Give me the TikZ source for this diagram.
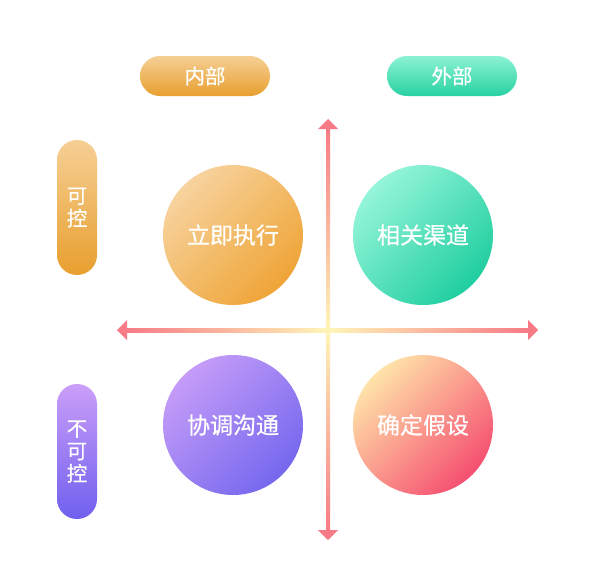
\documentclass[tikz,border=0pt]{standalone}
\usepackage{fontspec}
\newfontfamily\cjk[FakeBold=0.4]{Noto Sans CJK SC}
\definecolor{orA}{HTML}{F7D39E}\definecolor{orB}{HTML}{EFA436}
\definecolor{grA}{HTML}{95F5DA}\definecolor{grB}{HTML}{20CE9F}
\definecolor{puA}{HTML}{C59CF8}\definecolor{puB}{HTML}{7568EE}
\definecolor{reA}{HTML}{FFE3A9}\definecolor{reB}{HTML}{F54F70}
\definecolor{pkA}{HTML}{F77B86}\definecolor{yeA}{HTML}{FFF5B8}
\definecolor{porA}{HTML}{F6CF95}\definecolor{porB}{HTML}{E89F2E}
\definecolor{pgrA}{HTML}{8BF2D2}\definecolor{pgrB}{HTML}{28D2A2}
\definecolor{ppuA}{HTML}{CB9EF9}\definecolor{ppuB}{HTML}{6F60EE}
\tikzset{
  pill/.style={rectangle,rounded corners=20pt,inner sep=0pt,text=white,
    font=\cjk\fontsize{20.5}{22.5}\selectfont,align=center},
  hpill/.style={pill,minimum width=130pt,minimum height=40pt},
  vpill/.style={pill,minimum width=40pt,minimum height=135pt},
  disc/.style={circle,minimum size=140pt,inner sep=0pt,text=white,
    font=\cjk\fontsize{23}{25}\selectfont},
  tipfill/.style={fill=pkA,draw=none}
}
\begin{document}
\begin{tikzpicture}[x=1pt,y=-1pt]
\useasboundingbox[fill=white] (0,0) rectangle (610,587);
% axes
\coordinate (hl) at (117,330);
\coordinate (hr) at (538,330);
\coordinate (vt) at (328,119);
\coordinate (vb) at (328,540);
\shade[left color=pkA,right color=yeA] (127,328) rectangle (328,332);
\shade[left color=yeA,right color=pkA] (328,328) rectangle (528,332);
\fill[tipfill] (hl) -- ++(10,-10) -- ++(0,20) -- cycle;
\fill[tipfill] (hr) -- ++(-10,-10) -- ++(0,20) -- cycle;
\shade[top color=pkA,bottom color=yeA] (326,129) rectangle (330,330);
\shade[top color=yeA,bottom color=pkA] (326,330) rectangle (330,530);
\fill[tipfill] (vt) -- ++(-10,10) -- ++(20,0) -- cycle;
\fill[tipfill] (vb) -- ++(-10,-10) -- ++(20,0) -- cycle;
% pills
\node[hpill,top color=porA,bottom color=porB] (in) at (205,76) {内部};
\node[hpill,top color=pgrA,bottom color=pgrB] (out) at (452,76) {外部};
\node[vpill,top color=porA,bottom color=porB] (ctl) at (77,207.5) {可\\控};
\node[vpill,top color=ppuA,bottom color=ppuB] (nctl) at (77,451.5) {不\\可\\控};
% circles
\node[disc,top color=orA,bottom color=orB,shading angle=45] (c1) at (233,235) {立即执行};
\node[disc,top color=grA,bottom color=grB,shading angle=45] (c2) at (423,235) {相关渠道};
\node[disc,top color=puA,bottom color=puB,shading angle=45] (c3) at (233,425) {协调沟通};
\node[disc,top color=reA,bottom color=reB,shading angle=45] (c4) at (423,425) {确定假设};
\end{tikzpicture}
\end{document}
